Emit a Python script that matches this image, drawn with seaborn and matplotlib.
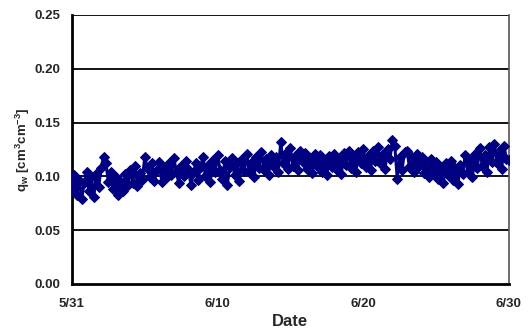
import numpy as np
import pandas as pd
import seaborn as sns
import matplotlib
matplotlib.use("Agg")
import matplotlib.pyplot as plt
import matplotlib.dates as mdates

# water content readings, 6 per day (every 4 h) from 5/31 to 6/30
theta_w = [
    0.088, 0.101, 0.083, 0.097, 0.079, 0.094,
    0.104, 0.086, 0.099, 0.081, 0.102, 0.090,
    0.108, 0.118, 0.112, 0.095, 0.104, 0.088,
    0.099, 0.083, 0.096, 0.086, 0.102, 0.092,
    0.106, 0.094, 0.110, 0.091, 0.103, 0.097,
    0.118, 0.108, 0.099, 0.112, 0.096, 0.106,
    0.113, 0.095, 0.108, 0.099, 0.112, 0.101,
    0.117, 0.104, 0.094, 0.110, 0.100, 0.114,
    0.107, 0.092, 0.103, 0.112, 0.097, 0.109,
    0.118, 0.100, 0.111, 0.095, 0.115, 0.104,
    0.120, 0.106, 0.098, 0.114, 0.092, 0.109,
    0.117, 0.101, 0.112, 0.096, 0.116, 0.105,
    0.121, 0.104, 0.113, 0.099, 0.118, 0.108,
    0.123, 0.106, 0.116, 0.101, 0.120, 0.110,
    0.118, 0.104, 0.132, 0.112, 0.122, 0.107,
    0.126, 0.110, 0.119, 0.106, 0.124, 0.113,
    0.122, 0.107, 0.117, 0.103, 0.121, 0.110,
    0.120, 0.104, 0.115, 0.101, 0.119, 0.109,
    0.121, 0.106, 0.116, 0.102, 0.122, 0.111,
    0.124, 0.108, 0.118, 0.104, 0.123, 0.112,
    0.125, 0.109, 0.119, 0.106, 0.124, 0.114,
    0.127, 0.112, 0.121, 0.107, 0.125, 0.116,
    0.134, 0.128, 0.098, 0.118, 0.106, 0.123,
    0.124, 0.109, 0.118, 0.104, 0.121, 0.110,
    0.118, 0.103, 0.113, 0.099, 0.116, 0.105,
    0.113, 0.098, 0.109, 0.094, 0.112, 0.101,
    0.114, 0.097, 0.108, 0.093, 0.111, 0.102,
    0.120, 0.104, 0.115, 0.099, 0.121, 0.108,
    0.126, 0.110, 0.120, 0.104, 0.127, 0.113,
    0.130, 0.112, 0.124, 0.107, 0.128, 0.116,
    0.115,
]
dates = pd.date_range("2004-05-31", periods=len(theta_w), freq="4h")
tick_dates = pd.to_datetime(["2004-05-31", "2004-06-10", "2004-06-20", "2004-06-30"])
tick_labels = ["5/31", "6/10", "6/20", "6/30"]
y_ticks = [0.00, 0.05, 0.10, 0.15, 0.20, 0.25]

df = pd.DataFrame({"date": dates, "theta": theta_w})

sns.set_style("white")
plt.rcParams["font.family"] = ["Liberation Sans", "DejaVu Sans"]
plt.rcParams["mathtext.fontset"] = "custom"
plt.rcParams["mathtext.rm"] = "Liberation Sans:bold"
plt.rcParams["mathtext.default"] = "rm"

fig = plt.figure(figsize=(5.29, 3.31), dpi=100)
ax = fig.add_axes([0.136, 0.142, 0.826, 0.813])

sns.lineplot(data=df, x="date", y="theta", ax=ax, color="#000080",
             marker="D", markersize=5.5, markeredgecolor="#000080",
             linewidth=2.2, zorder=3)

ax.set_ylim(0, 0.25)
ax.set_yticks(y_ticks)
ax.set_yticklabels([f"{v:.2f}" for v in y_ticks], fontsize=9.5, fontweight="bold")
ax.set_xlim(tick_dates[0], tick_dates[-1])
ax.set_xticks(tick_dates)
ax.set_xticklabels(tick_labels, fontsize=9.5, fontweight="bold")

for v in y_ticks[1:]:
    ax.axhline(v, color="black", linewidth=1.3, zorder=1)

ax.tick_params(axis="both", direction="out", length=4, width=1.5, color="black", pad=4)
ax.tick_params(axis="x", pad=6)
for side in ["left", "bottom"]:
    ax.spines[side].set_color("black")
    ax.spines[side].set_linewidth(2)
ax.spines["right"].set_color("#555555")
ax.spines["right"].set_linewidth(1.2)
ax.spines["top"].set_visible(False)

ax.set_xlabel("Date", fontsize=12, fontweight="bold", labelpad=3)
ax.set_ylabel("q$_w$ [cm$^3$cm$^{-3}$]", fontsize=9.5, fontweight="bold", labelpad=2)

fig.savefig("out.png", dpi=100)
